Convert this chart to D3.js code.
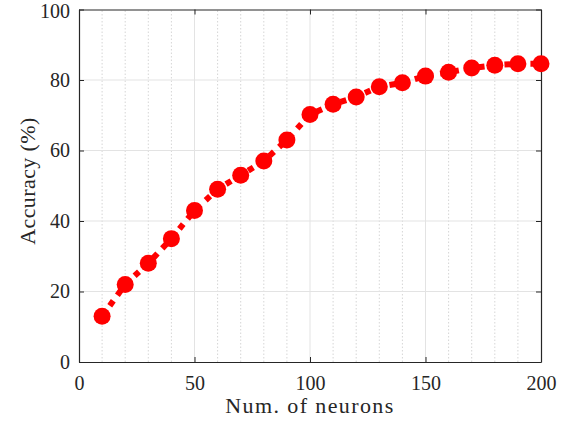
<!DOCTYPE html>
<html><head><meta charset="utf-8">
<script src="https://cdn.jsdelivr.net/npm/d3@7"></script>
<style>body{margin:0;background:#fff}svg{display:block}</style>
</head><body>
<script>
const neurons = [10,20,30,40,50,60,70,80,90,100,110,120,130,140,150,160,170,180,190,200];
const accuracy = [13,22,28,35,43,49,53,57,63,70.2,73.1,75.2,78.1,79.2,81.1,82.2,83.4,84.2,84.6,84.6];
const xTicks = [0,50,100,150,200];
const yTicks = [0,20,40,60,80,100];
const xMinor = d3.range(0,201,10);

const W=570,H=421;
const m={l:79,r:29,t:9.5,b:59};
const svg=d3.select("body").append("svg").attr("width",W).attr("height",H);
const x=d3.scaleLinear().domain([0,200]).range([m.l,W-m.r]);
const y=d3.scaleLinear().domain([0,100]).range([H-m.b,m.t]);
const font="'Liberation Serif','DejaVu Serif',serif";
const axc="#262626";

// minor grid (dotted)
svg.append("g").selectAll("line").data(xMinor.filter(v=>!xTicks.includes(v))).join("line")
 .attr("x1",d=>x(d)).attr("x2",d=>x(d)).attr("y1",y(0)).attr("y2",y(100))
 .attr("stroke","#d6d6d6").attr("stroke-width",1).attr("stroke-dasharray","1.5,2");
// major grid
svg.append("g").selectAll("line").data(xTicks.slice(1,-1)).join("line")
 .attr("x1",d=>x(d)).attr("x2",d=>x(d)).attr("y1",y(0)).attr("y2",y(100))
 .attr("stroke","#e3e3e3").attr("stroke-width",1);
svg.append("g").selectAll("line").data(yTicks.slice(1,-1)).join("line")
 .attr("y1",d=>y(d)).attr("y2",d=>y(d)).attr("x1",x(0)).attr("x2",x(200))
 .attr("stroke","#e3e3e3").attr("stroke-width",1);

// axes
const xAx=svg.append("g").attr("transform",`translate(0,${y(0)})`)
 .call(d3.axisBottom(x).tickValues(xTicks).tickSizeInner(-5).tickSizeOuter(0).tickPadding(14));
const yAx=svg.append("g").attr("transform",`translate(${x(0)},0)`)
 .call(d3.axisLeft(y).tickValues(yTicks).tickSizeInner(-5).tickSizeOuter(0).tickPadding(9));
const xTop=svg.append("g").attr("transform",`translate(0,${y(100)})`)
 .call(d3.axisTop(x).tickValues(xTicks).tickSizeInner(-5).tickSizeOuter(0).tickFormat(""));
const yRight=svg.append("g").attr("transform",`translate(${x(200)},0)`)
 .call(d3.axisRight(y).tickValues(yTicks).tickSizeInner(-5).tickSizeOuter(0).tickFormat(""));
[xAx,yAx,xTop,yRight].forEach(g=>{
 g.select(".domain").attr("stroke",axc).attr("stroke-width",1.2);
 g.selectAll(".tick line").attr("stroke",axc).attr("stroke-width",1);
 g.selectAll("text").attr("fill",axc).style("font-family",font).style("font-size","20px");
});
yAx.selectAll("text").filter(d=>d===100).attr("dy","0.4em");

// line
const line=d3.line().x((d,i)=>x(neurons[i])).y(d=>y(d));
svg.append("path").datum(accuracy).attr("d",line).attr("fill","none")
 .attr("stroke","#ff0000").attr("stroke-width",6).attr("stroke-dasharray","6,7");
svg.append("g").selectAll("circle").data(accuracy).join("circle")
 .attr("cx",(d,i)=>x(neurons[i])).attr("cy",d=>y(d)).attr("r",8.5).attr("fill","#ff0000");

// labels
svg.append("text").attr("x",x(100)).attr("y",413).attr("text-anchor","middle")
 .attr("fill",axc).style("font-family",font).style("font-size","22px").style("letter-spacing","1.4px")
 .text("Num. of neurons");
svg.append("text").attr("transform",`translate(35,181) rotate(-90)`).attr("text-anchor","middle")
 .attr("fill",axc).style("font-family",font).style("font-size","22px").style("letter-spacing","0.4px")
 .text("Accuracy (%)");
</script>
</body></html>
